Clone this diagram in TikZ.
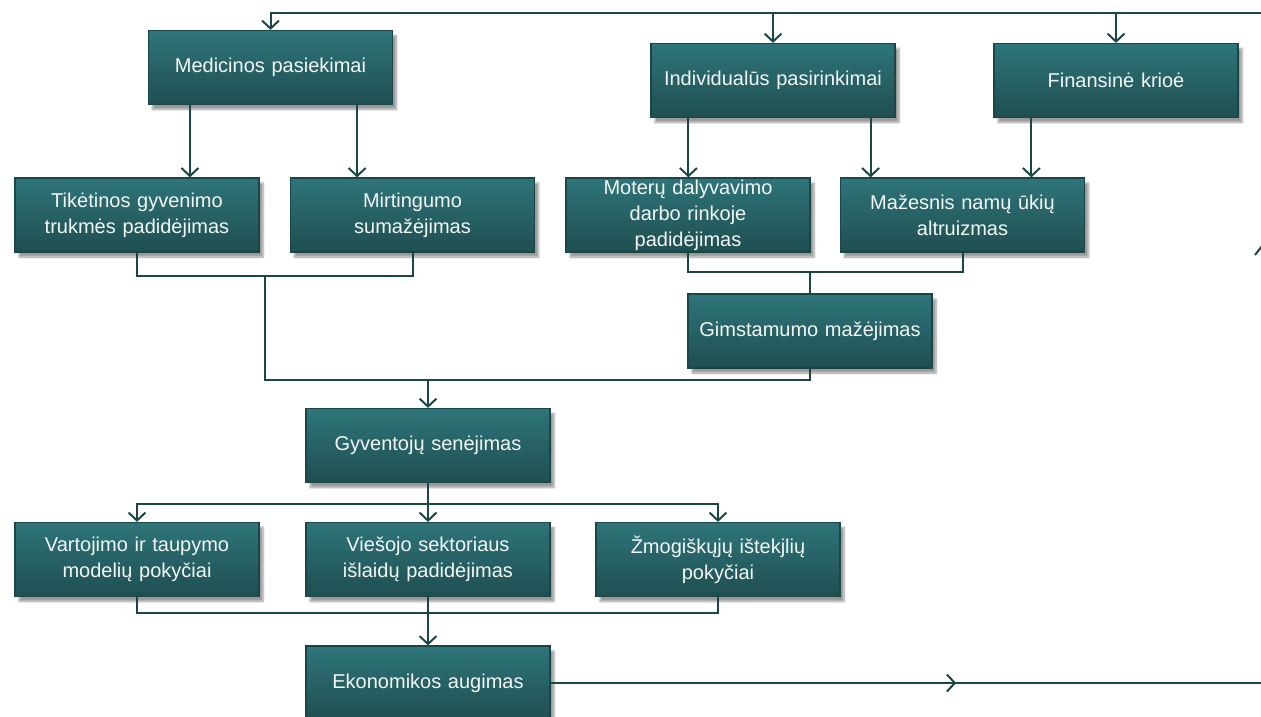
\documentclass[tikz,border=0pt]{standalone}
\usepackage{fontspec}
\setmainfont{Liberation Sans}
\usepackage{tikz}
\usetikzlibrary{arrows.meta,shadows.blur,decorations.markings}
\definecolor{tealtop}{RGB}{46,117,122}
\definecolor{tealbot}{RGB}{31,78,80}
\definecolor{tealline}{RGB}{27,70,72}
\tikzset{
	box/.style={
			draw=tealline, line width=1.2pt, top color=tealtop, bottom color=tealbot,
			minimum width=244pt, minimum height=74pt, text width=234pt, align=center,
			inner sep=0pt, text=white!94!tealtop, font=\fontsize{20}{26}\selectfont,
			blur shadow={shadow xshift=4pt, shadow yshift=-5pt, shadow blur steps=6}
		},
	link/.style={draw=tealline, line width=2pt},
	arr/.style={link, -{Straight Barb[length=8pt,width=17pt]}}
}

\begin{document}
\begin{tikzpicture}[x=1pt,y=-1pt]
		\useasboundingbox (0,0) rectangle (1261,717);
		% boxes
		\node[box] (med) at (270.5,67.5) {Medicinos pasiekimai};
		\node[box] (ind) at (773,80.5) {Individualūs pasirinkimai};
		\node[box] (fin) at (1116,80.5) {Finansinė krioė};
		\node[box] (tik) at (137,215) {Tikėtinos gyvenimo\\trukmės padidėjimas};
		\node[box] (mir) at (412.5,215) {Mirtingumo\\sumažėjimas};
		\node[box] (mot) at (688,215) {Moterų dalyvavimo\\darbo rinkoje\\padidėjimas};
		\node[box] (maz) at (962.5,215) {Mažesnis namų ūkių\\altruizmas};
		\node[box] (gim) at (810,331) {Gimstamumo mažėjimas};
		\node[box] (gyv) at (428,445.5) {Gyventojų senėjimas};
		\node[box] (var) at (137,559.5) {Vartojimo ir taupymo\\modelių pokyčiai};
		\node[box] (vie) at (428,559.5) {Viešojo sektoriaus\\išlaidų padidėjimas};
		\node[box] (zmo) at (718,559.5) {Žmogiškųjų ištekjlių\\pokyčiai};
		\node[box] (eko) at (428,683) {Ekonomikos augimas};
		% top line
		\coordinate (topR) at (1261,13);
		\draw[arr] (topR) -| (med.north);
		\draw[arr] (ind.north |- topR) -- (ind.north);
		\draw[arr] (fin.north |- topR) -- (fin.north);
		% causes
		\coordinate (a1) at ([xshift=42pt]med.south west);
		\coordinate (a2) at ([xshift=-36pt]med.south east);
		\coordinate (a3) at ([xshift=38pt]ind.south west);
		\coordinate (a4) at ([xshift=-25pt]ind.south east);
		\coordinate (a5) at ([xshift=38pt]fin.south west);
		\draw[arr] (a1) -- (a1 |- tik.north);
		\draw[arr] (a2) -- (a2 |- mir.north);
		\draw[arr] (a3) -- (a3 |- mot.north);
		\draw[arr] (a4) -- (a4 |- maz.north);
		\draw[arr] (a5) -- (a5 |- maz.north);
		% merging
		\coordinate (j1) at (265,276);
		\coordinate (j2) at (265,380);
		\coordinate (j3) at (810,272);
		\draw[link] (tik.south) |- (j1) -| (mir.south);
		\draw[link] (mot.south) |- (j3) -| (maz.south);
		\draw[link] (j3) -- (gim.north);
		\draw[link] (j1) -- (j2) -| (gim.south);
		\draw[arr] (gyv.north |- j2) -- (gyv.north);
		% consequences
		\coordinate (j4) at (428,504);
		\coordinate (j5) at (428,613);
		\draw[link] (gyv.south) -- (j4);
		\draw[arr] (j4) -| (var.north);
		\draw[arr] (j4) -| (zmo.north);
		\draw[arr] (j4) -- (vie.north);
		\draw[link] (var.south) |- (j5) -| (zmo.south);
		\draw[arr] (vie.south) -- (eko.north);
		% output
		\coordinate (outR) at (1261,683);
		\draw[link, postaction={decorate}, decoration={markings,
				mark=at position 0.571 with {\arrow{Straight Barb[length=8pt,width=17pt]}}}]
			(eko.east) -- (outR);
		\draw[link] (1255,255) -- (1262,246);
	\end{tikzpicture}
\end{document}
